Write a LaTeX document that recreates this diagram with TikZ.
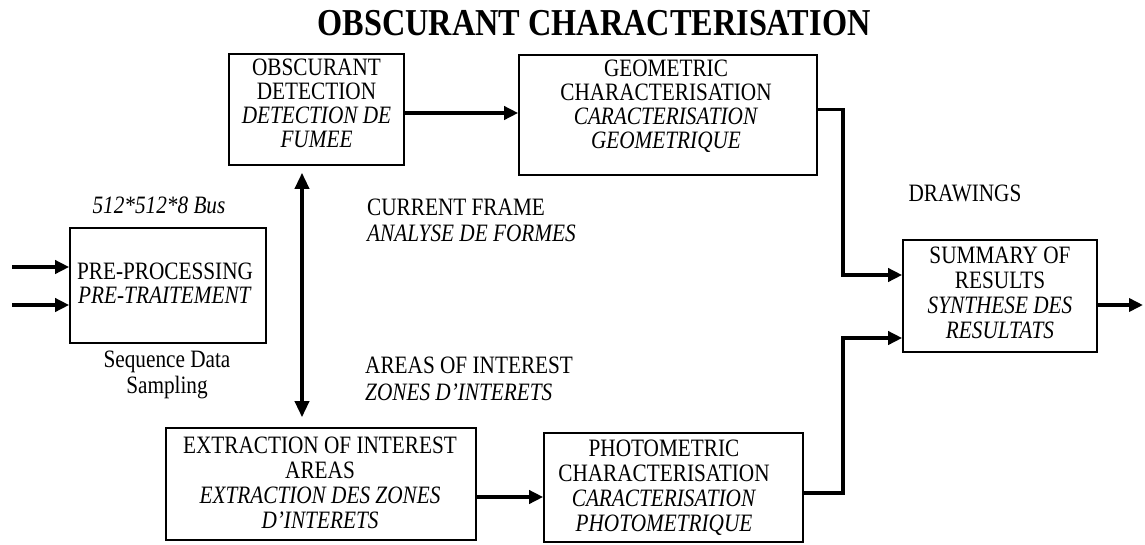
\documentclass[tikz,border=0pt]{standalone}
\usepackage{fontspec}
\setmainfont{Liberation Serif}[FakeStretch=0.85]
\usetikzlibrary{arrows.meta}
\begin{document}
\begin{tikzpicture}[x=1pt,y=-1pt,
  box/.style={draw,line width=1.6pt,inner sep=0pt},
  txt/.style={inner sep=0pt,align=center,font=\fontsize{25}{24}\selectfont},
  lbl/.style={inner sep=0pt,align=left,font=\fontsize{25}{26}\selectfont},
  arr/.style={line width=3.5pt,-{Triangle[length=14pt,width=13pt]}},
  dbl/.style={line width=3.5pt,{Triangle[length=16pt,width=14pt]}-{Triangle[length=16pt,width=14pt]}}]
\fill[white] (0,0) rectangle (1145,544);
\useasboundingbox (0,0) rectangle (1145,544);

\node[inner sep=0pt,font=\fontsize{38}{40}\selectfont\bfseries] (title) at (594,23) {OBSCURANT CHARACTERISATION};

% boxes
\node[box,minimum width=175pt,minimum height=111pt] (OD) at (316.5,109.5) {};
\node[box,minimum width=298pt,minimum height=120pt] (GC) at (668,115) {};
\node[box,minimum width=196pt,minimum height=115pt] (PP) at (168,285.5) {};
\node[box,minimum width=194pt,minimum height=112pt] (SR) at (1000,296) {};
\node[box,minimum width=310pt,minimum height=112pt] (EI) at (321,484) {};
\node[box,minimum width=259pt,minimum height=109pt] (PC) at (673.5,487.5) {};

% box texts
\node[txt] (ODt) at (316.5,103) {OBSCURANT\\DETECTION\\\textit{DETECTION DE}\\\textit{FUMEE}};
\node[txt] (GCt) at (666,106) {GEOMETRIC\\CHARACTERISATION\\\textit{CARACTERISATION}\\\textit{GEOMETRIQUE}};
\node[txt] (PPt) at (165,283.5) {PRE-PROCESSING\\\textit{PRE-TRAITEMENT}};
\node[txt,font=\fontsize{25}{25}\selectfont] (SRt) at (1000,292.5) {SUMMARY OF\\RESULTS\\\textit{SYNTHESE DES}\\\textit{RESULTATS}};
\node[txt,font=\fontsize{25}{25}\selectfont] (EIt) at (320,482.5) {EXTRACTION OF INTEREST\\AREAS\\\textit{EXTRACTION DES ZONES}\\\textit{D'INTERETS}};
\node[txt,font=\fontsize{25}{25}\selectfont] (PCt) at (664,487.5) {PHOTOMETRIC\\CHARACTERISATION\\\textit{CARACTERISATION}\\\textit{PHOTOMETRIQUE}};

% free labels
\node[inner sep=0pt,font=\fontsize{25}{26}\selectfont\itshape] (bus) at (159,205) {512*512*8 Bus};
\node[txt,font=\fontsize{25}{26}\selectfont] (seq) at (167,375) {Sequence Data\\Sampling};
\node[lbl,anchor=north west] (cur) at (367,199) {CURRENT FRAME\\\textit{ANALYSE DE FORMES}};
\node[lbl,anchor=north west,font=\fontsize{25}{27}\selectfont] (areas) at (365,357) {AREAS OF INTEREST\\\textit{ZONES D'INTERETS}};
\node[inner sep=0pt,font=\fontsize{25}{26}\selectfont] (drw) at (965,193) {DRAWINGS};

% helper coordinates
\coordinate (i1) at (12,267);
\coordinate (i2) at (12,305);
\coordinate (vx) at (302,0);
\coordinate (c0) at (0,113);
\coordinate (c1) at (843,275);
\coordinate (c2) at (843,338);
\coordinate (c3) at (843,493);
\coordinate (c4) at (0,497);
\coordinate (out) at (1143,305);

% connectors
\draw[arr] (i1) -- (i1 -| PP.west);
\draw[arr] (i2) -- (i2 -| PP.west);
\draw[arr] (OD.east |- c0) -- (GC.west |- c0);
\draw[dbl,shorten <=7pt,shorten >=10pt] (vx |- OD.south) -- (vx |- EI.north);
\draw[arr] (GC.east |- OD.east) -| (c1) -- (c1 -| SR.west);
\draw[arr] (c3 -| PC.east) -- (c3) -- (c2) -- (c2 -| SR.west);
\draw[arr] (EI.east |- c4) -- (PC.west |- c4);
\draw[arr] (SR.east |- out) -- (out);
\end{tikzpicture}
\end{document}
